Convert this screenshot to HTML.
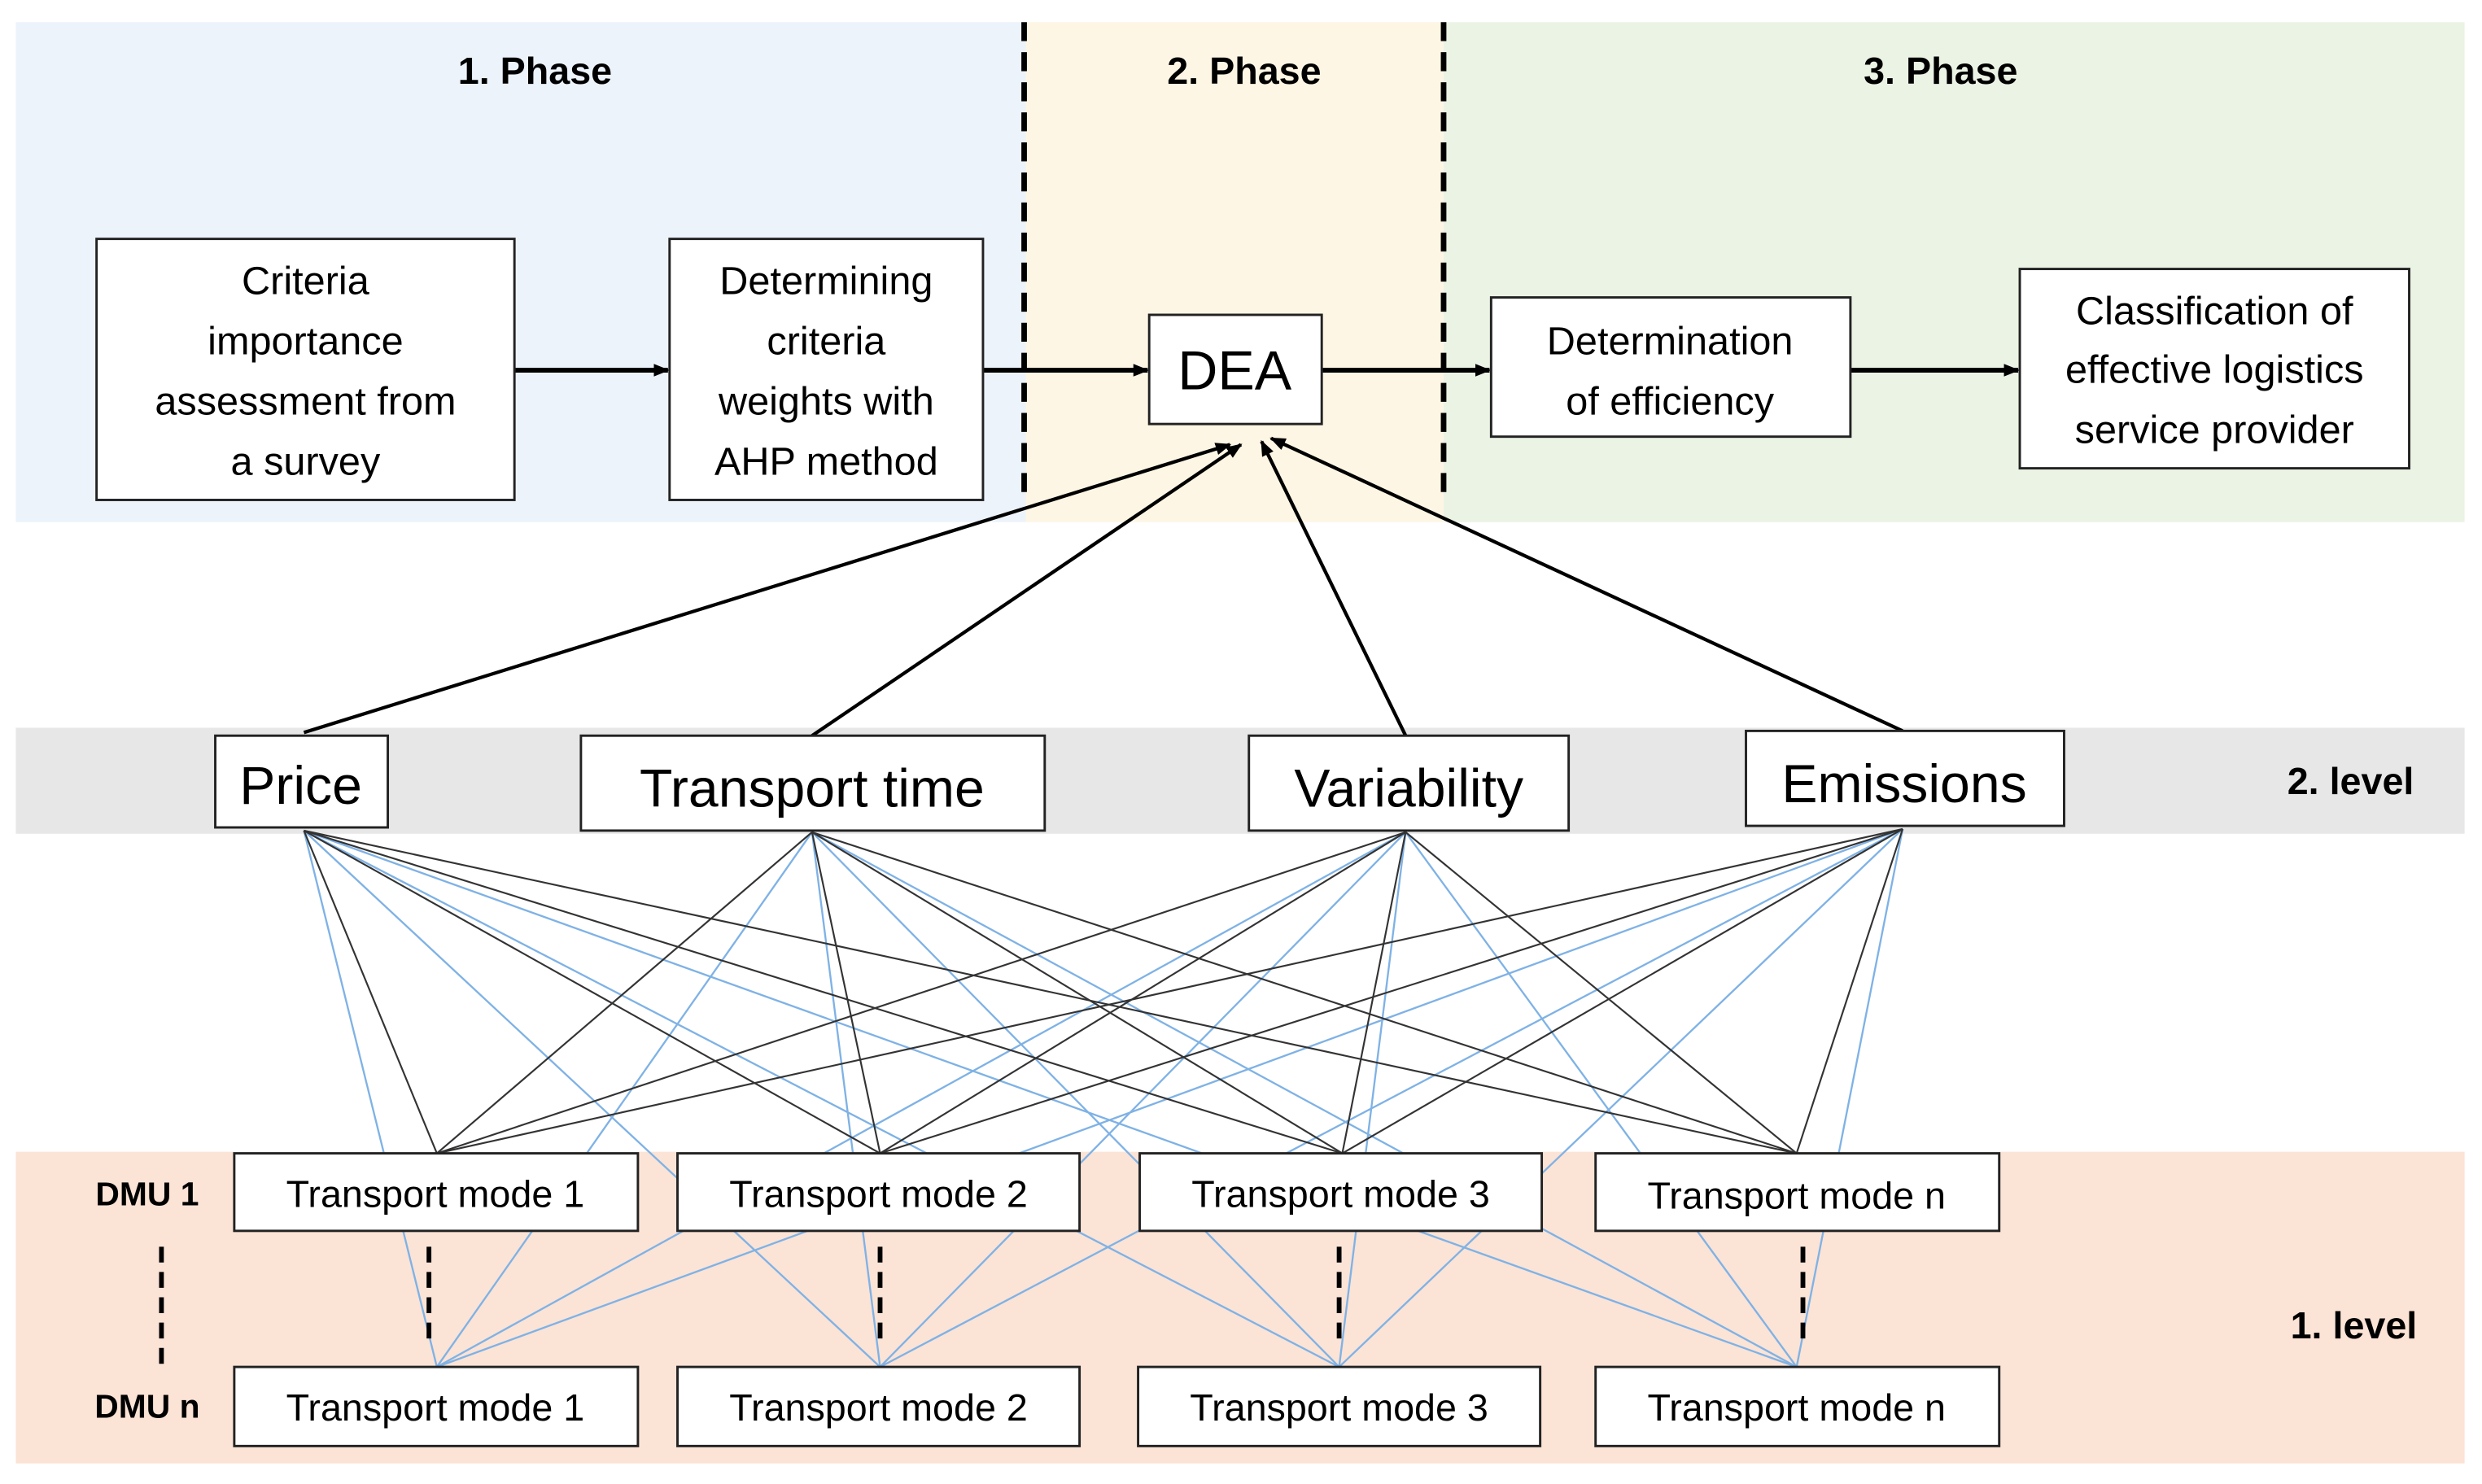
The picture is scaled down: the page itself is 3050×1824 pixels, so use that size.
<!DOCTYPE html>
<html><head><meta charset="utf-8"><style>
html,body{margin:0;padding:0;background:#fff;}
svg{display:block;}
text{font-family:"Liberation Sans",sans-serif;fill:#000;}
</style></head><body>
<svg width="3050" height="1824" viewBox="0 0 1568 938" preserveAspectRatio="none" xmlns="http://www.w3.org/2000/svg">
<defs>
<marker id="ah" markerWidth="10" markerHeight="10" refX="9" refY="5" orient="auto" markerUnits="userSpaceOnUse">
<path d="M0,1 L10,5 L0,9 Z" fill="#000"/></marker>
</defs>
<rect x="10" y="14" width="638" height="316" fill="#ECF3FB"/>
<rect x="648" y="14" width="264" height="316" fill="#FEF6E4"/>
<rect x="912" y="14" width="645" height="316" fill="#EBF3E4"/>
<rect x="10" y="460" width="1547" height="67" fill="#E7E7E7"/>
<rect x="10" y="728" width="1547" height="197" fill="#FBE3D6"/>
<line x1="647" y1="14" x2="647" y2="318" stroke="#000" stroke-width="3.5" stroke-dasharray="12,7"/>
<line x1="912" y1="14" x2="912" y2="318" stroke="#000" stroke-width="3.5" stroke-dasharray="12,7"/>
<g font-weight="bold" font-size="24" text-anchor="middle">
<text x="338" y="53">1. Phase</text><text x="786" y="53">2. Phase</text><text x="1226" y="53">3. Phase</text>
<text x="1485" y="502">2. level</text><text x="1487" y="846">1. level</text>
</g>
<g font-weight="bold" font-size="21" text-anchor="middle">
<text x="93" y="762">DMU 1</text><text x="93" y="896">DMU n</text>
</g>
<!-- phase arrows -->
<g stroke="#000" stroke-width="3" marker-end="url(#ah)">
<line x1="325" y1="234" x2="422" y2="234"/><line x1="621" y1="234" x2="725" y2="234"/>
<line x1="835" y1="234" x2="941" y2="234"/><line x1="1169" y1="234" x2="1275" y2="234"/>
</g>
<g stroke="#000" stroke-width="2.2" marker-end="url(#ah)">
<line x1="192" y1="463" x2="777" y2="281"/><line x1="513" y1="465" x2="784" y2="281"/>
<line x1="888" y1="465" x2="797" y2="279"/><line x1="1202" y1="462" x2="803" y2="277"/>
</g>
<!-- mesh -->
<g stroke="#7FB2E5" stroke-width="1.2">
<line x1="192" y1="525" x2="276" y2="864"/><line x1="192" y1="525" x2="556" y2="864"/><line x1="192" y1="525" x2="846" y2="864"/><line x1="192" y1="525" x2="1135" y2="864"/>
<line x1="513" y1="526" x2="276" y2="864"/><line x1="513" y1="526" x2="556" y2="864"/><line x1="513" y1="526" x2="846" y2="864"/><line x1="513" y1="526" x2="1135" y2="864"/>
<line x1="888" y1="526" x2="276" y2="864"/><line x1="888" y1="526" x2="556" y2="864"/><line x1="888" y1="526" x2="846" y2="864"/><line x1="888" y1="526" x2="1135" y2="864"/>
<line x1="1202" y1="524" x2="276" y2="864"/><line x1="1202" y1="524" x2="556" y2="864"/><line x1="1202" y1="524" x2="846" y2="864"/><line x1="1202" y1="524" x2="1135" y2="864"/>
</g>
<g stroke="#333" stroke-width="1.1">
<line x1="192" y1="525" x2="276" y2="729"/><line x1="192" y1="525" x2="556" y2="729"/><line x1="192" y1="525" x2="848" y2="729"/><line x1="192" y1="525" x2="1135" y2="729"/>
<line x1="513" y1="526" x2="276" y2="729"/><line x1="513" y1="526" x2="556" y2="729"/><line x1="513" y1="526" x2="848" y2="729"/><line x1="513" y1="526" x2="1135" y2="729"/>
<line x1="888" y1="526" x2="276" y2="729"/><line x1="888" y1="526" x2="556" y2="729"/><line x1="888" y1="526" x2="848" y2="729"/><line x1="888" y1="526" x2="1135" y2="729"/>
<line x1="1202" y1="524" x2="276" y2="729"/><line x1="1202" y1="524" x2="556" y2="729"/><line x1="1202" y1="524" x2="848" y2="729"/><line x1="1202" y1="524" x2="1135" y2="729"/>
</g>
<g stroke="#000" stroke-width="3" stroke-dasharray="10,6">
<line x1="102" y1="788" x2="102" y2="864"/>
<line x1="271" y1="788" x2="271" y2="852"/><line x1="556" y1="788" x2="556" y2="852"/>
<line x1="846" y1="788" x2="846" y2="852"/><line x1="1139" y1="788" x2="1139" y2="852"/>
</g>
<!-- boxes -->
<g fill="#fff" stroke="#222" stroke-width="1.5">
<rect x="61" y="151" width="264" height="165"/><rect x="423" y="151" width="198" height="165"/>
<rect x="726" y="199" width="109" height="69"/><rect x="942" y="188" width="227" height="88"/>
<rect x="1276" y="170" width="246" height="126"/>
<rect x="136" y="465" width="109" height="58"/><rect x="367" y="465" width="293" height="60"/>
<rect x="789" y="465" width="202" height="60"/><rect x="1103" y="462" width="201" height="60"/>
<rect x="148" y="729" width="255" height="49"/><rect x="428" y="729" width="254" height="49"/>
<rect x="720" y="729" width="254" height="49"/><rect x="1008" y="729" width="255" height="49"/>
<rect x="148" y="864" width="255" height="50"/><rect x="428" y="864" width="254" height="50"/>
<rect x="719" y="864" width="254" height="50"/><rect x="1008" y="864" width="255" height="50"/>
</g>
<g font-size="25" text-anchor="middle">
<text x="193" y="186">Criteria</text><text x="193" y="224">importance</text><text x="193" y="262">assessment from</text><text x="193" y="300">a survey</text>
<text x="522" y="186">Determining</text><text x="522" y="224">criteria</text><text x="522" y="262">weights with</text><text x="522" y="300">AHP method</text>
<text x="1055" y="224">Determination</text><text x="1055" y="262">of efficiency</text>
<text x="1399" y="205">Classification of</text><text x="1399" y="242">effective logistics</text><text x="1399" y="280">service provider</text>
</g>
<text x="780" y="246" font-size="35" text-anchor="middle">DEA</text>
<g font-size="34" text-anchor="middle">
<text x="190" y="508">Price</text><text x="513" y="510">Transport time</text>
<text x="890" y="510">Variability</text><text x="1203" y="507">Emissions</text>
</g>
<g font-size="24" text-anchor="middle">
<text x="275" y="763">Transport mode 1</text><text x="555" y="763">Transport mode 2</text>
<text x="847" y="763">Transport mode 3</text><text x="1135" y="764">Transport mode n</text>
<text x="275" y="898">Transport mode 1</text><text x="555" y="898">Transport mode 2</text>
<text x="846" y="898">Transport mode 3</text><text x="1135" y="898">Transport mode n</text>
</g>
</svg>
</body></html>
